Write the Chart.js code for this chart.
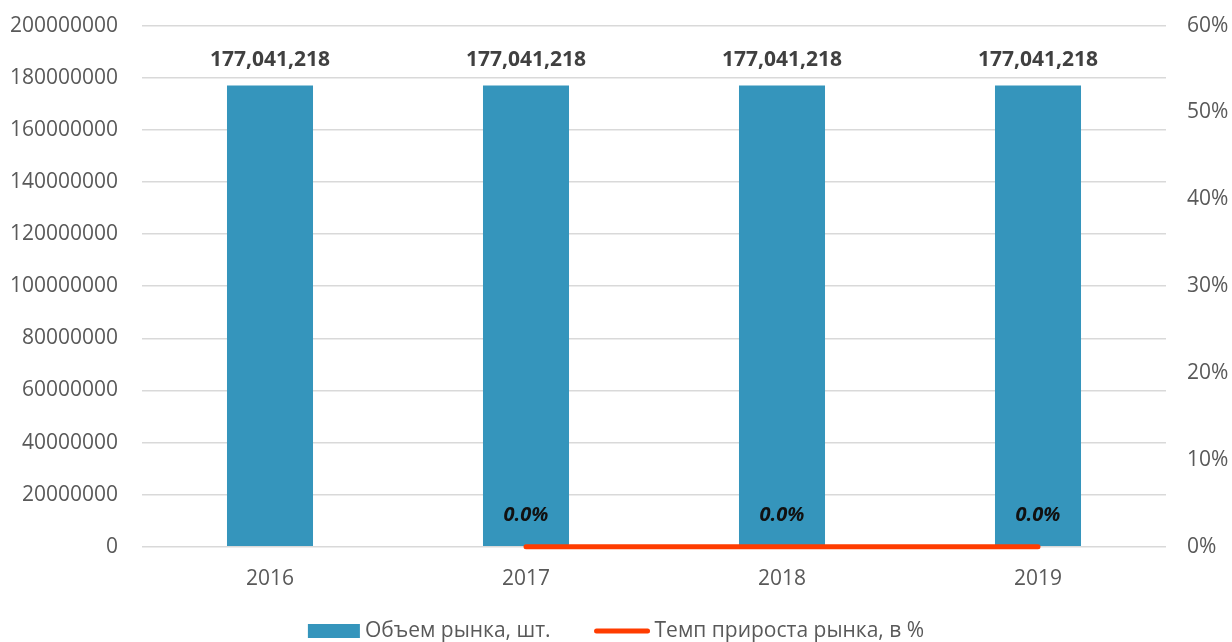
<!DOCTYPE html>
<html>
<head>
<meta charset="utf-8">
<script src="https://cdn.jsdelivr.net/npm/chart.js@4"></script>
<style>
  html, body { margin: 0; padding: 0; background: #fff; }
  #wrap { width: 1232px; height: 642px; }
</style>
</head>
<body>
<div id="wrap"><canvas id="chart" width="1232" height="642"></canvas></div>
<script>
// chart data
const years = ['2016', '2017', '2018', '2019'];
const marketVolume = [177041218, 177041218, 177041218, 177041218];
const growthRate = [null, 0.0, 0.0, 0.0];
const volumeTicks = [0, 20000000, 40000000, 60000000, 80000000, 100000000, 120000000, 140000000, 160000000, 180000000, 200000000];
const rateTicks = [0, 10, 20, 30, 40, 50, 60];
const seriesNames = ['Объем рынка, шт.', 'Темп прироста рынка, в %'];

const FONT = '"Open Sans", "DejaVu Sans", sans-serif';
const BAR_COLOR = '#3595BC';
const LINE_COLOR = '#FF3C00';

// value labels drawn over bars and line points
const valueLabels = {
  id: 'valueLabels',
  afterDatasetsDraw(chart) {
    const ctx = chart.ctx;
    ctx.save();
    ctx.textAlign = 'center';
    ctx.textBaseline = 'middle';
    chart.getDatasetMeta(0).data.forEach((bar, i) => {
      ctx.font = 'bold 21px ' + FONT;
      ctx.fillStyle = '#404040';
      ctx.fillText(marketVolume[i].toLocaleString('en-US'), bar.x, bar.y - 25);
    });
    chart.getDatasetMeta(1).data.forEach((pt, i) => {
      if (growthRate[i] === null) return;
      ctx.font = 'italic bold 20px ' + FONT;
      ctx.fillStyle = '#111';
      ctx.fillText(growthRate[i].toFixed(1) + '%', pt.x, pt.y - 32);
    });
    ctx.restore();
  }
};

// bottom legend, spaced like the original
const bottomLegend = {
  id: 'bottomLegend',
  afterDraw(chart) {
    const ctx = chart.ctx;
    const y = 631;
    ctx.save();
    ctx.font = '21px ' + FONT;
    ctx.textBaseline = 'middle';
    ctx.fillStyle = '#595959';
    const w1 = ctx.measureText(seriesNames[0]).width;
    const w2 = ctx.measureText(seriesNames[1]).width;
    const total = 52 + 5 + w1 + 44 + 55 + 5 + w2;
    let x = (chart.width - total) / 2;
    ctx.fillStyle = BAR_COLOR;
    ctx.fillRect(x, y - 7, 52, 14);
    x += 57;
    ctx.fillStyle = '#595959';
    ctx.fillText(seriesNames[0], x, y);
    x += w1 + 44;
    ctx.strokeStyle = LINE_COLOR;
    ctx.lineWidth = 5;
    ctx.lineCap = 'round';
    ctx.beginPath();
    ctx.moveTo(x + 2, y);
    ctx.lineTo(x + 53, y);
    ctx.stroke();
    x += 60;
    ctx.fillText(seriesNames[1], x, y);
    ctx.restore();
  }
};

new Chart(document.getElementById('chart').getContext('2d'), {
  type: 'bar',
  data: {
    labels: years,
    datasets: [
      {
        label: seriesNames[0],
        data: marketVolume,
        backgroundColor: BAR_COLOR,
        borderWidth: 0,
        categoryPercentage: 1,
        barPercentage: 0.336,
        yAxisID: 'y',
        order: 2
      },
      {
        type: 'line',
        label: seriesNames[1],
        data: growthRate,
        borderColor: LINE_COLOR,
        backgroundColor: LINE_COLOR,
        borderWidth: 5,
        borderCapStyle: 'round',
        pointRadius: 0,
        pointHoverRadius: 0,
        clip: false,
        yAxisID: 'y1',
        order: 1
      }
    ]
  },
  options: {
    responsive: false,
    animation: false,
    layout: { padding: { top: 0, left: 0, right: 0, bottom: 38 } },
    plugins: {
      tooltip: { enabled: false },
      legend: { display: false }
    },
    scales: {
      x: {
        grid: { display: false },
        border: { display: false },
        ticks: { font: { family: FONT, size: 21 }, color: '#595959', padding: 12 }
      },
      y: {
        position: 'left',
        min: 0,
        max: 200000000,
        afterBuildTicks(axis) { axis.ticks = volumeTicks.map(v => ({ value: v })); },
        afterFit(axis) { axis.width = 142; },
        grid: { color: '#D9D9D9', lineWidth: 1.5, drawTicks: true, tickLength: 11, tickColor: 'rgba(0,0,0,0)' },
        border: { display: false },
        ticks: {
          font: { family: FONT, size: 21 },
          color: '#595959',
          padding: 13,
          callback: v => String(v)
        }
      },
      y1: {
        position: 'right',
        min: 0,
        max: 60,
        afterBuildTicks(axis) { axis.ticks = rateTicks.map(v => ({ value: v })); },
        afterFit(axis) { axis.width = 66; },
        grid: { drawOnChartArea: false, drawTicks: true, tickLength: 13, tickColor: 'rgba(0,0,0,0)' },
        border: { display: false },
        ticks: {
          font: { family: FONT, size: 21 },
          color: '#595959',
          padding: 8,
          callback: v => v + '%'
        }
      }
    }
  },
  plugins: [valueLabels, bottomLegend]
});
</script>
</body>
</html>
